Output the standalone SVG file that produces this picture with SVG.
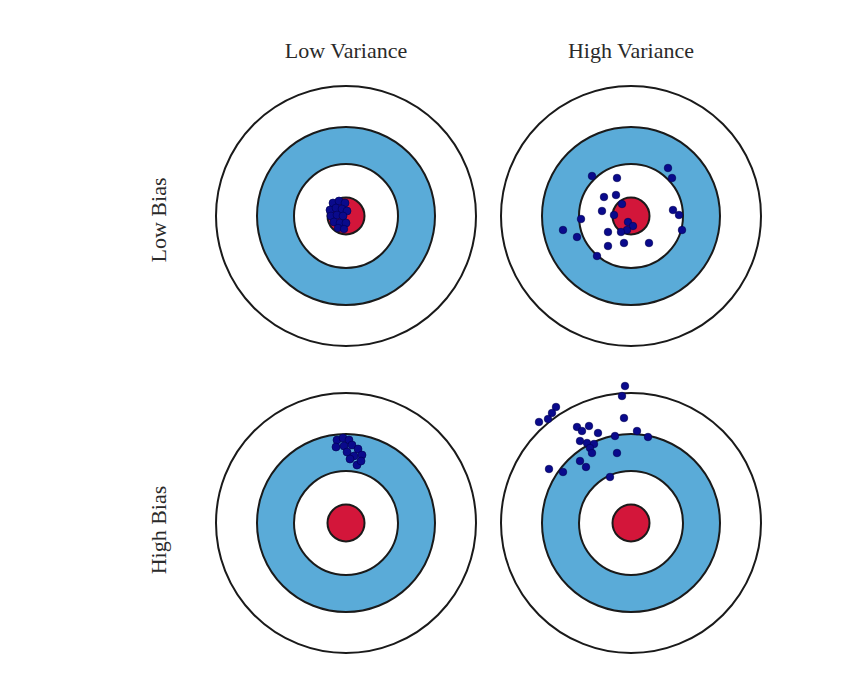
<svg xmlns="http://www.w3.org/2000/svg" width="856" height="699" viewBox="0 0 856 699">
<style>
.lbl{font-family:"Liberation Serif","Times New Roman",serif;font-size:22px;fill:#2a2a2a;text-anchor:middle}
.ring{stroke:#1a1a1a;stroke-width:2}
.outer{fill:#fff}
.blue{fill:#5aabd8}
.inner{fill:#fff}
.bull{fill:#d3163a}
.d{fill:#0a0a8c;stroke:#000050;stroke-width:0.6}
</style>
<defs>
<g id="target">
<circle class="ring outer" r="130"/>
<circle class="ring blue" r="89"/>
<circle class="ring inner" r="52"/>
<circle class="ring bull" r="18.5"/>
</g>
</defs>
<rect width="856" height="699" fill="#fff"/>
<text class="lbl" x="346" y="58">Low Variance</text>
<text class="lbl" x="631" y="58">High Variance</text>
<text class="lbl" transform="translate(166 220) rotate(-90)">Low Bias</text>
<text class="lbl" transform="translate(166 530) rotate(-90)">High Bias</text>

<g id="lowbias-lowvar">
<use href="#target" x="346" y="216"/>
<g>
<circle class="d" cx="333" cy="203" r="4"/>
<circle class="d" cx="339" cy="201" r="4"/>
<circle class="d" cx="345" cy="203" r="4"/>
<circle class="d" cx="330" cy="210" r="4"/>
<circle class="d" cx="336" cy="208" r="4"/>
<circle class="d" cx="342" cy="209" r="4"/>
<circle class="d" cx="347" cy="211" r="4"/>
<circle class="d" cx="331" cy="216" r="4"/>
<circle class="d" cx="337" cy="215" r="4"/>
<circle class="d" cx="343" cy="216" r="4"/>
<circle class="d" cx="334" cy="222" r="4"/>
<circle class="d" cx="340" cy="223" r="4"/>
<circle class="d" cx="346" cy="223" r="4"/>
<circle class="d" cx="338" cy="228" r="3.8"/>
<circle class="d" cx="344" cy="229" r="3.8"/>
</g>
</g>

<g id="lowbias-highvar">
<use href="#target" x="631" y="216"/>
<g>
<circle class="d" cx="592" cy="176" r="3.8"/>
<circle class="d" cx="617" cy="178" r="3.8"/>
<circle class="d" cx="668" cy="168" r="3.8"/>
<circle class="d" cx="672" cy="178" r="3.8"/>
<circle class="d" cx="604" cy="197" r="3.8"/>
<circle class="d" cx="616" cy="195" r="3.8"/>
<circle class="d" cx="602" cy="211" r="3.8"/>
<circle class="d" cx="622" cy="204" r="3.8"/>
<circle class="d" cx="581" cy="219" r="3.8"/>
<circle class="d" cx="563" cy="230" r="3.8"/>
<circle class="d" cx="577" cy="237" r="3.8"/>
<circle class="d" cx="608" cy="232" r="3.8"/>
<circle class="d" cx="608" cy="246" r="3.8"/>
<circle class="d" cx="624" cy="243" r="3.8"/>
<circle class="d" cx="649" cy="243" r="3.8"/>
<circle class="d" cx="597" cy="256" r="3.8"/>
<circle class="d" cx="673" cy="210" r="3.8"/>
<circle class="d" cx="679" cy="215" r="3.8"/>
<circle class="d" cx="682" cy="230" r="3.8"/>
<circle class="d" cx="628" cy="222" r="3.8"/>
<circle class="d" cx="633" cy="226" r="3.8"/>
<circle class="d" cx="627" cy="230" r="3.8"/>
<circle class="d" cx="621" cy="232" r="3.8"/>
<circle class="d" cx="614" cy="215" r="3.8"/>
</g>
</g>

<g id="highbias-lowvar">
<use href="#target" x="346" y="523"/>
<g>
<circle class="d" cx="337" cy="440" r="4"/>
<circle class="d" cx="343" cy="438" r="4"/>
<circle class="d" cx="349" cy="440" r="4"/>
<circle class="d" cx="336" cy="447" r="4"/>
<circle class="d" cx="344" cy="446" r="4"/>
<circle class="d" cx="352" cy="445" r="4"/>
<circle class="d" cx="358" cy="449" r="4"/>
<circle class="d" cx="347" cy="452" r="4"/>
<circle class="d" cx="354" cy="456" r="4"/>
<circle class="d" cx="362" cy="455" r="4"/>
<circle class="d" cx="350" cy="459" r="4"/>
<circle class="d" cx="357" cy="465" r="4"/>
<circle class="d" cx="361" cy="461" r="4"/>
</g>
</g>

<g id="highbias-highvar">
<use href="#target" x="631" y="523"/>
<g>
<circle class="d" cx="625" cy="386" r="3.8"/>
<circle class="d" cx="622" cy="396" r="3.8"/>
<circle class="d" cx="556" cy="407" r="3.8"/>
<circle class="d" cx="552" cy="413" r="3.8"/>
<circle class="d" cx="539" cy="422" r="3.8"/>
<circle class="d" cx="548" cy="419" r="3.8"/>
<circle class="d" cx="624" cy="418" r="3.8"/>
<circle class="d" cx="577" cy="427" r="3.8"/>
<circle class="d" cx="589" cy="426" r="3.8"/>
<circle class="d" cx="582" cy="431" r="3.8"/>
<circle class="d" cx="598" cy="433" r="3.8"/>
<circle class="d" cx="637" cy="431" r="3.8"/>
<circle class="d" cx="615" cy="436" r="3.8"/>
<circle class="d" cx="648" cy="437" r="3.8"/>
<circle class="d" cx="580" cy="441" r="3.8"/>
<circle class="d" cx="587" cy="443" r="3.8"/>
<circle class="d" cx="594" cy="444" r="3.8"/>
<circle class="d" cx="590" cy="448" r="3.8"/>
<circle class="d" cx="592" cy="453" r="3.8"/>
<circle class="d" cx="617" cy="453" r="3.8"/>
<circle class="d" cx="580" cy="461" r="3.8"/>
<circle class="d" cx="586" cy="467" r="3.8"/>
<circle class="d" cx="549" cy="469" r="3.8"/>
<circle class="d" cx="563" cy="472" r="3.8"/>
<circle class="d" cx="610" cy="477" r="3.8"/>
</g>
</g>
</svg>
